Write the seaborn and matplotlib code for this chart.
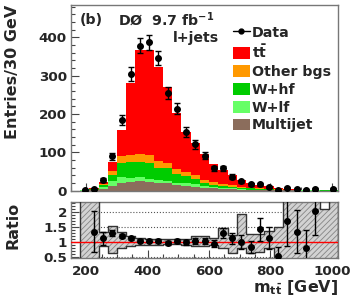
import numpy as np
import pandas as pd
import matplotlib
matplotlib.use('Agg')
import matplotlib.pyplot as plt
import seaborn as sns
from matplotlib.lines import Line2D
from matplotlib.patches import Patch
from matplotlib.ticker import MultipleLocator

# m_tt bins, 30 GeV wide
edges = list(range(150, 1021, 30))
centers = [e + 15 for e in edges[:-1]]

# stacked prediction, bins 150-180 ... 990-1020
ttbar = [0, 0, 1, 5, 23, 68, 187, 272, 274, 245, 197, 146, 104, 85, 67,
         48, 37, 26, 18, 13, 10, 6, 3, 2, 1.5, 1, 0.9, 0.7, 0.5]
other = [0, 0.3, 0.7, 2.5, 10, 18, 17, 19, 20, 18, 15, 13, 10, 9, 8,
         6, 5, 4, 3, 2, 1.4, 1.2, 1.0, 0.8, 0.7, 0.5, 0.4, 0.3, 0.2]
whf = [0, 0.7, 1.6, 6.5, 16, 35, 42, 41, 42, 32, 32, 22, 19, 14, 8,
       7, 6, 4, 3, 3, 2.0, 1.8, 1.5, 1.0, 0.8, 0.7, 0.6, 0.5, 0.4]
wlf = [0, 0.5, 1.2, 4, 12, 17, 11, 11, 8, 7, 7, 6, 6, 7, 4,
       3, 2, 2, 1, 1, 1.0, 0.7, 0.5, 0.4, 0.4, 0.3, 0.2, 0.2, 0.1]
multijet = [0, 0.5, 1.5, 5, 13, 20, 23, 24, 23, 21, 19, 15, 13, 10, 8,
            6, 5, 4, 3, 2, 1.6, 1.3, 1.0, 0.8, 0.6, 0.5, 0.4, 0.3, 0.3]

# data
data_m = [195, 225, 255, 285, 315, 345, 375, 405, 435, 465, 495, 525, 555, 585,
          615, 645, 675, 705, 735, 765, 795, 825, 855, 885, 915, 945, 1005]
data_n = [2, 4, 28, 90, 185, 304, 378, 387, 345, 254, 214, 153, 121, 91,
          58, 58, 37, 24, 17, 17, 9, 3, 6, 4, 3, 4, 5]

# data / prediction
ratio_m = [225, 255, 285, 315, 345, 375, 405, 435, 465, 495, 525, 555, 585,
           615, 645, 675, 705, 735, 765, 795, 825, 855, 885, 915, 945]
ratio_val = [1.34, 1.12, 1.28, 1.20, 1.11, 1.03, 1.03, 1.03, 0.96, 1.03, 0.98, 1.03, 1.03,
             0.94, 1.29, 1.11, 0.98, 0.81, 1.42, 1.12, 0.53, 1.70, 1.34, 0.79, 2.03]
ratio_err = [0.69, 0.22, 0.10, 0.07, 0.05, 0.05, 0.05, 0.05, 0.06, 0.07, 0.08, 0.09, 0.10,
             0.12, 0.15, 0.18, 0.23, 0.20, 0.38, 0.36, 0.30, 0.85, 0.72, 0.60, 0.80]

# uncertainty band on the ratio, bins 180-210 ... 990-1020
band_edges = list(range(180, 1021, 30))
band_lo = [0.3, 0.3, 0.86, 0.64, 0.80, 0.87, 0.89, 0.90, 0.90, 0.91, 0.91, 0.90, 0.86, 0.86,
           0.90, 0.80, 0.63, 0.80, 0.63, 0.66, 0.80, 0.3, 0.3, 0.3, 0.3, 0.3, 0.3, 0.3]
band_hi = [3, 3, 1.31, 1.53, 1.31, 1.18, 1.12, 1.10, 1.09, 1.09, 1.09, 1.10, 1.20, 1.20,
           1.12, 1.47, 1.24, 1.91, 1.27, 1.27, 1.37, 1.48, 3, 3, 3, 3, 2.09, 3]

procs = ['tt', 'Other bgs', 'W+hf', 'W+lf', 'Multijet']
labels = [r't$\mathbf{\bar{t}}$', 'Other bgs', 'W+hf', 'W+lf', 'Multijet']
colors = ['#ff0000', '#ff9900', '#00cc00', '#66ff66', '#8b6d5c']

df = pd.DataFrame({
    'm': centers * len(procs),
    'n': ttbar + other + whf + wlf + multijet,
    'proc': [p for p in procs for _ in centers],
})

sns.set_style('ticks')
plt.rcParams['font.family'] = ['DejaVu Sans']
plt.rcParams['font.weight'] = 'bold'
plt.rcParams['mathtext.fontset'] = 'dejavusans'
plt.rcParams['mathtext.default'] = 'bf'
plt.rcParams['hatch.linewidth'] = 0.6
fs_tick = 9.7
fs_title = 11.5
fs_text = 10.2

fig = plt.figure(figsize=(3.54, 3.07), dpi=100)
ax1 = fig.add_axes([0.2006, 0.3788, 0.7542, 0.6049])
ax2 = fig.add_axes([0.2006, 0.1586, 0.7542, 0.1844])

sns.histplot(df, x='m', weights='n', hue='proc', hue_order=procs, palette=colors,
             multiple='stack', bins=edges, element='step', fill=True, alpha=1,
             linewidth=0, legend=False, ax=ax1)
ax1.errorbar(data_m, data_n, yerr=np.sqrt(data_n), fmt='o', color='k', ms=4,
             capsize=2, elinewidth=1, capthick=1, zorder=5)

ax1.set_xlim(150, 1020)
ax1.set_ylim(0, 484)
ax1.set_xlabel('')
ax1.set_ylabel('Entries/30 GeV', fontsize=fs_title, fontweight='bold', loc='top')
ax1.yaxis.set_label_coords(-0.19, 1.0)
ax1.xaxis.set_major_locator(MultipleLocator(200))
ax1.xaxis.set_minor_locator(MultipleLocator(50))
ax1.yaxis.set_major_locator(MultipleLocator(100))
ax1.yaxis.set_minor_locator(MultipleLocator(20))
ax1.tick_params(labelbottom=False)

ax1.text(0.034, 0.919, '(b)', transform=ax1.transAxes, fontsize=fs_text, va='center')
ax1.text(0.176, 0.919, r'DØ  9.7 fb$^{-1}$', transform=ax1.transAxes,
         fontsize=fs_text, va='center')
ax1.text(0.553, 0.822, 'l+jets', transform=ax1.transAxes, fontsize=fs_text,
         va='center', ha='right')

handles = [Line2D([], [], color='k', marker='o', ms=3.5, lw=1)]
handles += [Patch(facecolor=c, edgecolor='none') for c in colors]
ax1.legend(handles, ['Data'] + labels, loc='upper left', bbox_to_anchor=(0.605, 0.888),
           frameon=False, fontsize=fs_text, handlelength=1.2, handleheight=0.9,
           handletextpad=0.15, labelspacing=0.27, borderaxespad=0, borderpad=0)

# ratio panel
ax2.yaxis.grid(True, ls=':', color='#555555', lw=0.8)
ax2.set_axisbelow(True)
lo = band_lo + [band_lo[-1]]
hi = band_hi + [band_hi[-1]]
ax2.fill_between(band_edges, lo, hi, step='post', facecolor='#d2d2d2',
                 edgecolor='#858585', hatch='//////', lw=0, zorder=2)
ax2.fill_between(band_edges, lo, hi, step='post', facecolor='none',
                 edgecolor='#333333', lw=1, zorder=3)
ax2.axhline(1, color='#ff0000', lw=1, zorder=4)
ax2.errorbar(ratio_m, ratio_val, yerr=ratio_err, fmt='o', color='k', ms=4,
             capsize=2, elinewidth=1, capthick=1, zorder=5)

ax2.set_xlim(150, 1020)
ax2.set_ylim(0.45, 2.33)
ax2.set_yticks([0.5, 1, 1.5, 2])
ax2.set_yticklabels(['0.5', '1', '1.5', '2'])
ax2.yaxis.set_minor_locator(MultipleLocator(0.1))
ax2.xaxis.set_major_locator(MultipleLocator(200))
ax2.xaxis.set_minor_locator(MultipleLocator(50))
ax2.set_ylabel('Ratio', fontsize=fs_title, fontweight='bold', loc='top')
ax2.yaxis.set_label_coords(-0.19, 1.0)
ax2.set_xlabel(r'm$_{t\bar{t}}$ [GeV]', fontsize=fs_title, fontweight='bold',
               loc='right', labelpad=0)

for ax in (ax1, ax2):
    ax.tick_params(which='both', direction='in', labelsize=fs_tick, top=False, right=False)
    ax.tick_params(which='major', length=6, width=0.8, pad=3, color='#444444')
    ax.tick_params(which='minor', length=3, width=0.8, color='#444444')
    for lab in ax.get_xticklabels() + ax.get_yticklabels():
        lab.set_fontweight('bold')
    for s in ax.spines.values():
        s.set_color('#777777')
        s.set_linewidth(1)
ax2.tick_params(axis='x', which='major', pad=5)

fig.savefig('out.png', dpi=100)
